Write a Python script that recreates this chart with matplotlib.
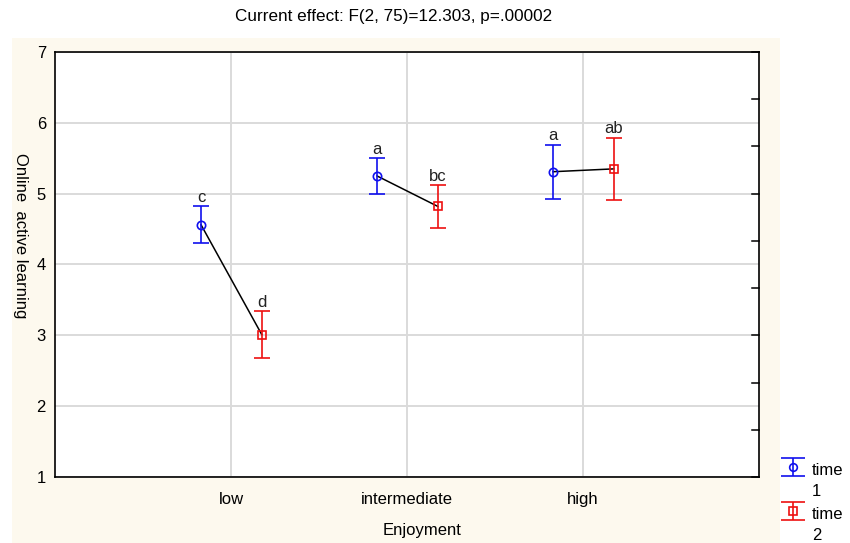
import matplotlib.pyplot as plt
import numpy as np
from matplotlib.patches import Rectangle

plt.rcParams['font.family'] = ['Liberation Sans', 'DejaVu Sans']

# data
categories = ['low', 'intermediate', 'high']
time1_mean = [4.56, 5.25, 5.31]
time1_err = [0.26, 0.25, 0.38]
time2_mean = [3.01, 4.82, 5.35]
time2_err = [0.33, 0.30, 0.44]
time1_letters = ['c', 'a', 'a']
time2_letters = ['d', 'bc', 'ab']
legend_labels = ['time\n1', 'time\n2']

blue = '#1010ee'
red = '#ee1010'
fs = 12

fig = plt.figure(figsize=(8.5, 5.43), dpi=100)
W, H = 850, 543

# cream panel behind the plot
fig.patches.append(Rectangle((12 / W, 0), (780 - 12) / W, (543 - 38) / H,
                             transform=fig.transFigure, facecolor='#fdf9ee',
                             edgecolor='none', zorder=-10))

ax = fig.add_axes([55 / W, 1 - 477 / H, (759 - 55) / W, (477 - 52) / H])
ax.set_facecolor('white')

x = np.arange(1, len(categories) + 1)
x1 = x - 0.17
x2 = x + 0.175

for i in range(len(categories)):
    ax.plot([x1[i], x2[i]], [time1_mean[i], time2_mean[i]], color='black',
            lw=1.1, zorder=3)

ax.errorbar(x1, time1_mean, yerr=time1_err, fmt='o', color=blue,
            mfc='none', mec=blue, ms=6, capsize=5.8, elinewidth=1.2,
            capthick=1.2, mew=1.2, zorder=4)
ax.errorbar(x2, time2_mean, yerr=time2_err, fmt='s', color=red,
            mfc='none', mec=red, ms=6, capsize=5.8, elinewidth=1.2,
            capthick=1.2, mew=1.2, zorder=4)

for i in range(len(categories)):
    ax.annotate(time1_letters[i], (x1[i], time1_mean[i] + time1_err[i]),
                xytext=(0, 1), textcoords='offset points', ha='center',
                va='bottom', fontsize=fs, color='#222222')
    ax.annotate(time2_letters[i], (x2[i], time2_mean[i] + time2_err[i]),
                xytext=(0, 1), textcoords='offset points', ha='center',
                va='bottom', fontsize=fs, color='#222222')

ax.set_xlim(0, 4)
ax.set_ylim(1, 7)
ax.set_xticks(x)
ax.set_xticklabels(categories)
ax.set_yticks(range(1, 8))
ax.tick_params(axis='both', labelsize=fs, length=0)
ax.tick_params(axis='y', pad=6.5)
ax.tick_params(axis='x', pad=10.5)
ax.grid(True, color='#dadada', lw=1.4)
ax.set_axisbelow(True)
for s in ax.spines.values():
    s.set_linewidth(1.2)
    s.set_color('black')

# inner ticks on the right edge
for v in np.arange(1, 7.01, 2 / 3):
    ax.plot([1, 0.99], [v, v], transform=ax.get_yaxis_transform(),
            color='black', lw=1.1, clip_on=False, zorder=5)

fig.text(422 / W, 1 - 531 / H, 'Enjoyment', ha='center', va='center',
         fontsize=fs)
fig.text(20 / W, 1 - 236 / H, 'Online  active learning', rotation=270,
         ha='center', va='center', fontsize=fs)

fig.text(394 / W, 1 - 17 / H, 'Current effect: F(2, 75)=12.303, p=.00002',
         ha='center', va='center', fontsize=12.3)

# legend drawn by hand in pixel units
lax = fig.add_axes([775 / W, 0, 75 / W, 120 / H])
lax.set_xlim(775, 850)
lax.set_ylim(543, 423)
lax.axis('off')
for yc, col, mk, lab in [(467, blue, 'o', legend_labels[0]),
                         (511, red, 's', legend_labels[1])]:
    lax.errorbar([792.5], [yc], yerr=[9], fmt=mk, color=col, mfc='none',
                 mec=col, ms=5.5, capsize=8.3, elinewidth=1.2, capthick=1.2,
                 mew=1.2, clip_on=False)
    lax.text(812, yc - 4, lab, ha='left', va='top', fontsize=fs,
             linespacing=1.5)

fig.savefig('out.png', dpi=100)
